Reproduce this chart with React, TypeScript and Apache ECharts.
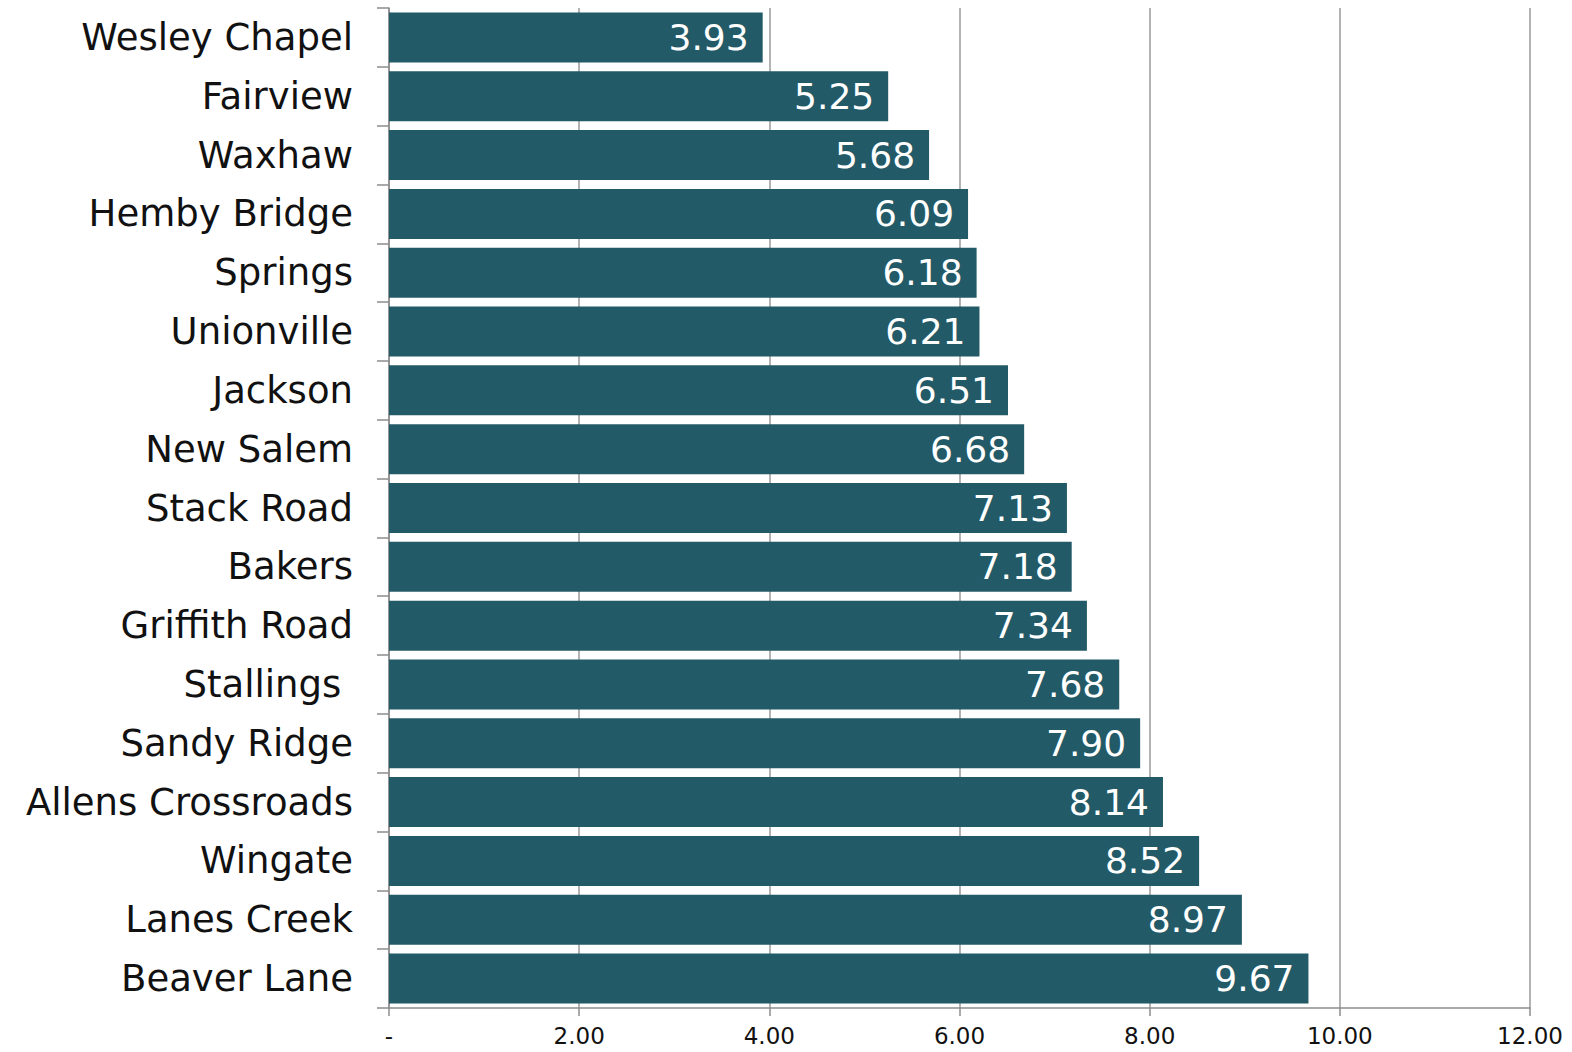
import React, { useEffect, useRef } from "react";
import * as echarts from "echarts";

const categories = [
  "Wesley Chapel", "Fairview", "Waxhaw", "Hemby Bridge", "Springs", "Unionville",
  "Jackson", "New Salem", "Stack Road", "Bakers", "Griffith Road", "Stallings ",
  "Sandy Ridge", "Allens Crossroads", "Wingate", "Lanes Creek", "Beaver Lane",
];
const values = [3.93, 5.25, 5.68, 6.09, 6.18, 6.21, 6.51, 6.68, 7.13, 7.18, 7.34, 7.68, 7.9, 8.14, 8.52, 8.97, 9.67];

const FONT = "'DejaVu Sans', Verdana, sans-serif";

export default function App() {
  const ref = useRef<HTMLDivElement>(null);
  useEffect(() => {
    const chart = echarts.init(ref.current!, null, { renderer: "svg" });
    chart.setOption({
      animation: false,
      grid: { left: 389, right: 42, top: 8, bottom: 44 },
      xAxis: {
        type: "value",
        min: 0,
        max: 12,
        interval: 2,
        axisLine: { show: true, lineStyle: { color: "#8c8c8c", width: 1.5 } },
        axisTick: { show: true, length: 8, lineStyle: { color: "#8c8c8c", width: 1.5 } },
        splitLine: { show: true, lineStyle: { color: "#9a9a9a", width: 1.5 } },
        axisLabel: {
          color: "#111",
          fontFamily: FONT,
          fontSize: 23,
          margin: 16,
          formatter: (v: number) => (v === 0 ? "-" : v.toFixed(2)),
        },
      },
      yAxis: {
        type: "category",
        inverse: true,
        data: categories,
        axisLine: { show: true, lineStyle: { color: "#8c8c8c", width: 1.5 } },
        axisTick: { show: true, inside: false, length: 12, lineStyle: { color: "#8c8c8c", width: 1.5 } },
        axisLabel: { color: "#111", fontFamily: FONT, fontSize: 37, margin: 36 },
        splitLine: { show: false },
      },
      series: [
        {
          type: "bar",
          data: values,
          barCategoryGap: "15%",
          itemStyle: { color: "#235a68" },
          label: {
            show: true,
            position: "insideRight",
            distance: 14,
            color: "#ffffff",
            fontFamily: FONT,
            fontSize: 36,
            formatter: (p: any) => p.value.toFixed(2),
          },
        },
      ],
    });
    return () => chart.dispose();
  }, []);
  return <div ref={ref} style={{ width: 1572, height: 1052, position: "absolute", left: 0, top: 0 }} />;
}
